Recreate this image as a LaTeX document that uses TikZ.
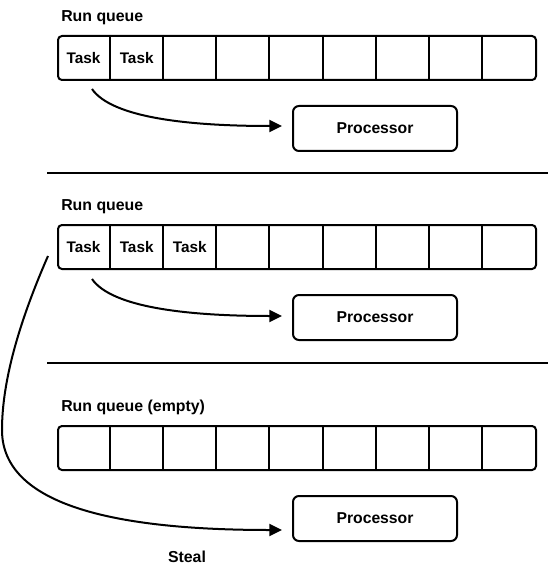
\documentclass[tikz,border=0pt]{standalone}
\usepackage{fontspec}
\setmainfont{Liberation Sans}
\usetikzlibrary{arrows.meta}
\usetikzlibrary{positioning}

\tikzset{
  queue/.style={draw, line width=1.5pt, rounded corners=3pt,
    minimum width=358.5pt, minimum height=33pt, inner sep=0pt},
  proc/.style={draw, line width=1.5pt, rounded corners=4.5pt,
    minimum width=123pt, minimum height=33.75pt, inner sep=0pt,
    font=\bfseries\fontsize{11.8}{14}\selectfont},
  qlabel/.style={inner sep=0pt, font=\bfseries\fontsize{11.9}{14}\selectfont},
  task/.style={inner sep=0pt, font=\bfseries\fontsize{11.5}{13}\selectfont},
  flow/.style={line width=1.5pt, -{Triangle[length=9.5pt,width=9pt]}},
  rule/.style={line width=1.5pt}
}

\begin{document}
\begin{tikzpicture}[x=0.75pt, y=-0.75pt]
    \useasboundingbox (0,0) rectangle (548,574);

    % queues
    \node[queue] (q1) at (297,58) {};
    \node[queue] (q2) at (297,247) {};
    \node[queue] (q3) at (297,448) {};
    \foreach \q in {q1,q2,q3}
      \foreach \i in {1,...,8}
        \draw[rule] ([xshift=\i*39.833pt]\q.north west) -- ([xshift=\i*39.833pt]\q.south west);

    \node[qlabel, above right=7.4pt and 3pt of q1.north west] (l1) {Run queue};
    \node[qlabel, above right=7.4pt and 3pt of q2.north west] (l2) {Run queue};
    \node[qlabel, above right=7.4pt and 3pt of q3.north west] (l3) {Run queue (empty)};

    % tasks
    \node[task] (t11) at ([xshift=19.92pt]q1.west) {Task};
    \node[task] (t12) at ([xshift=59.75pt]q1.west) {Task};
    \node[task] (t21) at ([xshift=19.92pt]q2.west) {Task};
    \node[task] (t22) at ([xshift=59.75pt]q2.west) {Task};
    \node[task] (t23) at ([xshift=99.58pt]q2.west) {Task};

    % processors
    \node[proc, below right=18pt and 176.25pt of q1.south west, anchor=north west] (p1) {Processor};
    \node[proc, below right=18pt and 176.25pt of q2.south west, anchor=north west] (p2) {Processor};
    \node[proc, below right=18pt and 176.25pt of q3.south west, anchor=north west] (p3) {Processor};

    % separators
    \coordinate (r1a) at (47,173);
    \coordinate (r1b) at (548,173);
    \coordinate (r2a) at (47,363);
    \coordinate (r2b) at (548,363);
    \draw[rule] (r1a) -- (r1b);
    \draw[rule] (r2a) -- (r2b);

    % run
    \coordinate (s1) at (92,89);
    \coordinate (e1) at (282,126);
    \coordinate (s2) at (92,279);
    \coordinate (e2) at (282,316);
    \draw[flow] (s1) .. controls (112,118) and (190,126) .. (e1);
    \draw[flow] (s2) .. controls (112,308) and (190,316) .. (e2);

    % steal
    \coordinate (s3) at (48,256);
    \coordinate (m3) at (2,430);
    \coordinate (e3) at (282,530);
    \draw[flow] (s3) .. controls (20,320) and (2,380) .. (m3)
      .. controls (2,510) and (130,530) .. (e3);
    \node[qlabel] (steal) at (187,557) {Steal};
\end{tikzpicture}
\end{document}
